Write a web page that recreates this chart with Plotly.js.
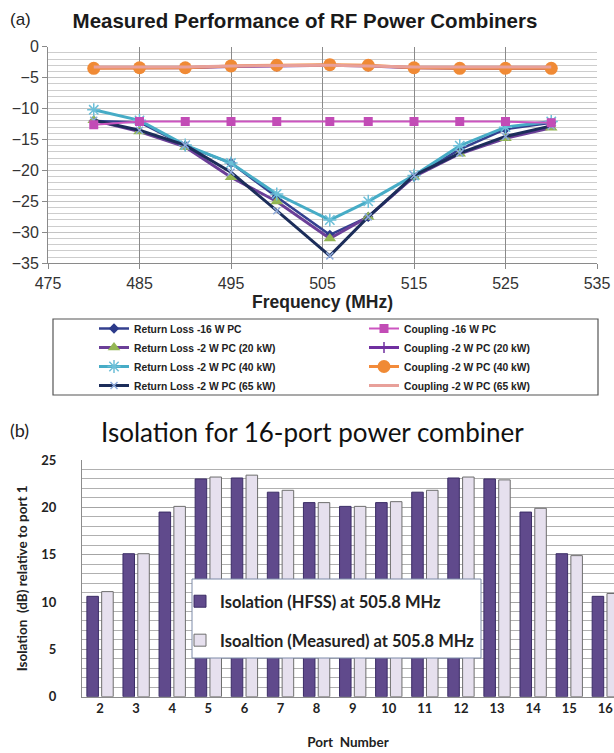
<!DOCTYPE html>
<html>
<head>
<meta charset="utf-8">
<script src="https://cdn.plot.ly/plotly-3.0.1.min.js"></script>
<style>html,body{margin:0;padding:0;background:#fff;}#chart{width:614px;height:753px;}</style>
</head>
<body>
<div id="chart"></div>
<script>
// ---- Panel (a) data ----
const freq = [480, 485, 490, 495, 500, 505.8, 510, 515, 520, 525, 530];
const rl16W   = [-12.0, -12.2, -16.0, -18.8, -24.3, -30.4, -27.5, -21.0, -16.6, -13.3, -12.3];
const rl20kW  = [-11.9, -13.7, -16.2, -21.1, -25.0, -31.0, -27.5, -21.0, -17.3, -14.8, -13.1];
const rl40kW  = [-10.2, -11.9, -15.9, -18.8, -23.8, -28.0, -25.0, -20.8, -16.0, -13.0, -12.1];
const rl65kW  = [-11.9, -13.5, -15.9, -20.3, -26.5, -33.8, -27.5, -20.8, -17.2, -14.5, -12.8];
const cp16W   = [-12.6, -12.1, -12.1, -12.1, -12.1, -12.1, -12.1, -12.1, -12.1, -12.1, -12.3];
const cp20kW  = [-3.4, -3.4, -3.4, -3.2, -3.1, -3.0, -3.1, -3.4, -3.5, -3.5, -3.5];
const cp40kW  = [-3.5, -3.4, -3.4, -3.1, -3.0, -2.9, -3.0, -3.4, -3.5, -3.5, -3.5];
const cp65kW  = [-3.3, -3.3, -3.3, -3.1, -3.0, -3.0, -3.1, -3.3, -3.3, -3.3, -3.3];
const namesA = [
  'Return Loss -16 W PC', 'Return Loss -2 W PC (20 kW)', 'Return Loss -2 W PC (40 kW)', 'Return Loss -2 W PC (65 kW)',
  'Coupling -16 W PC', 'Coupling -2 W PC (20 kW)', 'Coupling -2 W PC (40 kW)', 'Coupling -2 W PC (65 kW)'
];

// ---- Panel (b) data ----
const ports = [2, 3, 4, 5, 6, 7, 8, 9, 10, 11, 12, 13, 14, 15, 16];
const isoHFSS = [10.6, 15.1, 19.5, 23.0, 23.1, 21.6, 20.5, 20.1, 20.5, 21.6, 23.1, 23.0, 19.5, 15.1, 10.6];
const isoMeas = [11.1, 15.1, 20.1, 23.2, 23.4, 21.8, 20.5, 20.1, 20.6, 21.8, 23.2, 22.9, 19.9, 14.9, 10.9];
const namesB = ['Isolation (HFSS) at 505.8 MHz', 'Isoaltion (Measured) at 505.8 MHz'];

const W = 614, H = 753;
const px = v => v / W;
const py = v => 1 - v / H;

function lineTrace(y, name, rank, lineColor, lineWidth, marker) {
  const t = {
    type: 'scatter', mode: marker ? 'lines+markers' : 'lines',
    x: freq, y: y, name: name, legendrank: rank, legend: 'legend',
    xaxis: 'x', yaxis: 'y',
    line: {color: lineColor, width: lineWidth}
  };
  if (marker) t.marker = marker;
  return t;
}

const traces = [
  lineTrace(rl16W, namesA[0], 1, '#34408f', 2.5, {symbol: 'diamond', size: 8, color: '#2c3a8a'}),
  lineTrace(rl20kW, namesA[1], 3, '#6b3f98', 3, {symbol: 'triangle-up', size: 11, color: '#93b653'}),
  lineTrace(rl40kW, namesA[2], 5, '#47acc6', 3, {symbol: 'asterisk-open', size: 11, color: '#6cbfd8', line: {width: 1.5}}),
  lineTrace(rl65kW, namesA[3], 7, '#1c2d5a', 3, {symbol: 'x-thin-open', size: 7, color: '#8eaadb', line: {width: 1.5}}),
  lineTrace(cp16W, namesA[4], 2, '#cc55c0', 2, {symbol: 'square', size: 9, color: '#c24cb6'}),
  lineTrace(cp20kW, namesA[5], 4, '#7030a0', 3, {symbol: 'cross-thin-open', size: 8, color: '#7030a0', line: {width: 1.5}}),
  lineTrace(cp40kW, namesA[6], 6, '#f38b3b', 3, {symbol: 'circle', size: 13, color: '#f08a35'}),
  lineTrace(cp65kW, namesA[7], 8, '#e8a09a', 3, null),
  {
    type: 'bar', x: ports, y: isoHFSS, name: namesB[0], legend: 'legend2', legendgroup: 'h',
    xaxis: 'x2', yaxis: 'y2',
    marker: {color: '#604a8c', line: {color: '#3b2d66', width: 1}}
  },
  {
    type: 'bar', x: ports, y: isoMeas, name: namesB[1], legend: 'legend2', legendgroup: 'm',
    xaxis: 'x2', yaxis: 'y2',
    marker: {color: '#e6e0ee', line: {color: '#6e6e6e', width: 1}}
  }
];

const arial = 'Liberation Sans, Arial, sans-serif';
const cal = 'Lato, Open Sans, sans-serif';

const layout = {
  width: W, height: H,
  margin: {l: 0, r: 0, t: 0, b: 0, autoexpand: false},
  paper_bgcolor: '#ffffff', plot_bgcolor: '#ffffff',
  showlegend: true,
  barmode: 'group', bargap: 0.18, bargroupgap: 0.22,
  title: {
    text: 'Measured Performance of RF Power Combiners',
    xref: 'paper', yref: 'paper', x: px(305), y: py(21), xanchor: 'center', yanchor: 'middle',
    font: {family: arial, size: 20.5, weight: 'bold', color: '#1a1a1a'}
  },
  xaxis: {
    domain: [px(48), px(597)], anchor: 'y', range: [475, 535], tick0: 475, dtick: 10,
    showgrid: true, gridcolor: '#8a8a8a', gridwidth: 1, zeroline: false,
    showline: true, linecolor: '#8a8a8a', linewidth: 1,
    ticks: 'outside', ticklen: 5, tickcolor: '#8a8a8a',
    tickfont: {family: arial, size: 16, color: '#333'},
    title: {text: 'Frequency (MHz)', font: {family: arial, size: 17.5, weight: 'bold', color: '#222'}, standoff: 3},
    automargin: false, fixedrange: true
  },
  yaxis: {
    domain: [py(263.3), py(46.7)], anchor: 'x', range: [-35, 0], dtick: 5,
    showgrid: true, gridcolor: '#c4c4c4', gridwidth: 1, zeroline: false,
    minor: {dtick: 1, showgrid: true, gridcolor: '#cdcdcd', gridwidth: 1},
    showline: true, linecolor: '#8a8a8a', linewidth: 1,
    ticks: 'outside', ticklen: 5, tickcolor: '#8a8a8a',
    tickfont: {family: arial, size: 16, color: '#333'},
    automargin: false, fixedrange: true
  },
  xaxis2: {
    domain: [px(82), 1], anchor: 'y2', range: [1.5, 16.24],
    tickmode: 'array', tickvals: ports, ticktext: ports.map(String),
    showgrid: false, zeroline: false,
    showline: true, linecolor: '#8c8c8c', linewidth: 1, ticks: '',
    tickfont: {family: cal, size: 13, weight: 'bold', color: '#222'},
    title: {text: 'Port  Number', font: {family: cal, size: 13.5, weight: 'bold', color: '#222'}, standoff: 22},
    automargin: false, fixedrange: true
  },
  yaxis2: {
    domain: [py(696.7), py(460)], anchor: 'x2', range: [0, 25], dtick: 5,
    showgrid: true, gridcolor: '#a4a4a4', gridwidth: 1, zeroline: false,
    minor: {dtick: 1, showgrid: true, gridcolor: '#b0b0b0', gridwidth: 1},
    showline: true, linecolor: '#8c8c8c', linewidth: 1, ticks: '',
    ticklabelstandoff: 22,
    tickfont: {family: cal, size: 13, weight: 'bold', color: '#222'},
    title: {text: 'Isolation  (dB) relative to port 1', font: {family: cal, size: 13.5, weight: 'bold', color: '#222'}, standoff: 10},
    automargin: false, fixedrange: true
  },
  legend: {
    orientation: 'h', x: px(94), y: py(314), xanchor: 'left', yanchor: 'top',
    entrywidth: 225, bgcolor: 'rgba(0,0,0,0)', borderwidth: 0,
    font: {family: arial, size: 10.3, weight: 'bold', color: '#222'},
    traceorder: 'normal'
  },
  legend2: {
    x: px(180), y: py(584), xanchor: 'left', yanchor: 'top',
    bgcolor: 'rgba(0,0,0,0)', borderwidth: 0,
    tracegroupgap: 14.5, traceorder: 'grouped',
    font: {family: cal, size: 16.5, weight: 'bold', color: '#222'}
  },
  shapes: [
    {type: 'rect', xref: 'paper', yref: 'paper', x0: px(53), x1: px(598), y0: py(395), y1: py(319),
     line: {color: '#555', width: 1.2}, fillcolor: 'rgba(0,0,0,0)', layer: 'below'},
    {type: 'rect', xref: 'paper', yref: 'paper', x0: px(192), x1: px(481), y0: py(658), y1: py(579),
     line: {color: '#7c8aa8', width: 1}, fillcolor: '#ffffff', layer: 'above'}
  ],
  annotations: [
    {text: '(a)', xref: 'paper', yref: 'paper', x: px(20), y: py(20), showarrow: false,
     xanchor: 'center', yanchor: 'middle', font: {family: arial, size: 17, color: '#222'}},
    {text: '(b)', xref: 'paper', yref: 'paper', x: px(19), y: py(430), showarrow: false,
     xanchor: 'center', yanchor: 'middle', font: {family: cal, size: 18, color: '#222'}},
    {text: 'Isolation for 16-port power combiner', xref: 'paper', yref: 'paper', x: px(312), y: py(432),
     showarrow: false, xanchor: 'center', yanchor: 'middle', font: {family: cal, size: 26, color: '#111'}}
  ]
};

Plotly.newPlot('chart', traces, layout, {displayModeBar: false, staticPlot: true});
</script>
</body>
</html>
